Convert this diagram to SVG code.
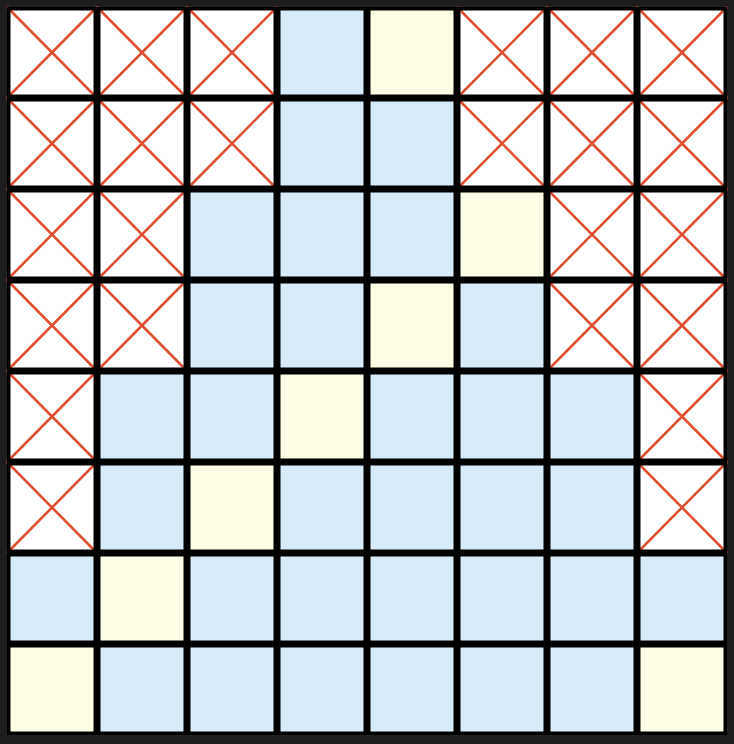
<svg xmlns="http://www.w3.org/2000/svg" width="734" height="744" viewBox="0 0 734 744">
<style>
.w{fill:#ffffff}
.b{fill:#d8ebf9}
.y{fill:#fefde6}
.x{stroke:#de4f2f;stroke-width:2.5;stroke-linecap:butt}
.g{stroke:#000000;stroke-width:7;fill:none}
</style>
<rect x="0" y="0" width="734" height="744" fill="#1e1e1e"/>
<g id="cells">
<g id="r0c0"><rect class="w" x="7" y="7" width="90" height="91"/><line class="x" x1="7" y1="7" x2="97" y2="98"/><line class="x" x1="97" y1="7" x2="7" y2="98"/></g>
<g id="r0c1"><rect class="w" x="97" y="7" width="90" height="91"/><line class="x" x1="97" y1="7" x2="187" y2="98"/><line class="x" x1="187" y1="7" x2="97" y2="98"/></g>
<g id="r0c2"><rect class="w" x="187" y="7" width="90" height="91"/><line class="x" x1="187" y1="7" x2="277" y2="98"/><line class="x" x1="277" y1="7" x2="187" y2="98"/></g>
<g id="r0c3"><rect class="b" x="277" y="7" width="90" height="91"/></g>
<g id="r0c4"><rect class="y" x="367" y="7" width="90" height="91"/></g>
<g id="r0c5"><rect class="w" x="457" y="7" width="90" height="91"/><line class="x" x1="457" y1="7" x2="547" y2="98"/><line class="x" x1="547" y1="7" x2="457" y2="98"/></g>
<g id="r0c6"><rect class="w" x="547" y="7" width="90" height="91"/><line class="x" x1="547" y1="7" x2="637" y2="98"/><line class="x" x1="637" y1="7" x2="547" y2="98"/></g>
<g id="r0c7"><rect class="w" x="637" y="7" width="90" height="91"/><line class="x" x1="637" y1="7" x2="727" y2="98"/><line class="x" x1="727" y1="7" x2="637" y2="98"/></g>

<g id="r1c0"><rect class="w" x="7" y="98" width="90" height="91"/><line class="x" x1="7" y1="98" x2="97" y2="189"/><line class="x" x1="97" y1="98" x2="7" y2="189"/></g>
<g id="r1c1"><rect class="w" x="97" y="98" width="90" height="91"/><line class="x" x1="97" y1="98" x2="187" y2="189"/><line class="x" x1="187" y1="98" x2="97" y2="189"/></g>
<g id="r1c2"><rect class="w" x="187" y="98" width="90" height="91"/><line class="x" x1="187" y1="98" x2="277" y2="189"/><line class="x" x1="277" y1="98" x2="187" y2="189"/></g>
<g id="r1c3"><rect class="b" x="277" y="98" width="90" height="91"/></g>
<g id="r1c4"><rect class="b" x="367" y="98" width="90" height="91"/></g>
<g id="r1c5"><rect class="w" x="457" y="98" width="90" height="91"/><line class="x" x1="457" y1="98" x2="547" y2="189"/><line class="x" x1="547" y1="98" x2="457" y2="189"/></g>
<g id="r1c6"><rect class="w" x="547" y="98" width="90" height="91"/><line class="x" x1="547" y1="98" x2="637" y2="189"/><line class="x" x1="637" y1="98" x2="547" y2="189"/></g>
<g id="r1c7"><rect class="w" x="637" y="98" width="90" height="91"/><line class="x" x1="637" y1="98" x2="727" y2="189"/><line class="x" x1="727" y1="98" x2="637" y2="189"/></g>

<g id="r2c0"><rect class="w" x="7" y="189" width="90" height="91"/><line class="x" x1="7" y1="189" x2="97" y2="280"/><line class="x" x1="97" y1="189" x2="7" y2="280"/></g>
<g id="r2c1"><rect class="w" x="97" y="189" width="90" height="91"/><line class="x" x1="97" y1="189" x2="187" y2="280"/><line class="x" x1="187" y1="189" x2="97" y2="280"/></g>
<g id="r2c2"><rect class="b" x="187" y="189" width="90" height="91"/></g>
<g id="r2c3"><rect class="b" x="277" y="189" width="90" height="91"/></g>
<g id="r2c4"><rect class="b" x="367" y="189" width="90" height="91"/></g>
<g id="r2c5"><rect class="y" x="457" y="189" width="90" height="91"/></g>
<g id="r2c6"><rect class="w" x="547" y="189" width="90" height="91"/><line class="x" x1="547" y1="189" x2="637" y2="280"/><line class="x" x1="637" y1="189" x2="547" y2="280"/></g>
<g id="r2c7"><rect class="w" x="637" y="189" width="90" height="91"/><line class="x" x1="637" y1="189" x2="727" y2="280"/><line class="x" x1="727" y1="189" x2="637" y2="280"/></g>

<g id="r3c0"><rect class="w" x="7" y="280" width="90" height="91"/><line class="x" x1="7" y1="280" x2="97" y2="371"/><line class="x" x1="97" y1="280" x2="7" y2="371"/></g>
<g id="r3c1"><rect class="w" x="97" y="280" width="90" height="91"/><line class="x" x1="97" y1="280" x2="187" y2="371"/><line class="x" x1="187" y1="280" x2="97" y2="371"/></g>
<g id="r3c2"><rect class="b" x="187" y="280" width="90" height="91"/></g>
<g id="r3c3"><rect class="b" x="277" y="280" width="90" height="91"/></g>
<g id="r3c4"><rect class="y" x="367" y="280" width="90" height="91"/></g>
<g id="r3c5"><rect class="b" x="457" y="280" width="90" height="91"/></g>
<g id="r3c6"><rect class="w" x="547" y="280" width="90" height="91"/><line class="x" x1="547" y1="280" x2="637" y2="371"/><line class="x" x1="637" y1="280" x2="547" y2="371"/></g>
<g id="r3c7"><rect class="w" x="637" y="280" width="90" height="91"/><line class="x" x1="637" y1="280" x2="727" y2="371"/><line class="x" x1="727" y1="280" x2="637" y2="371"/></g>

<g id="r4c0"><rect class="w" x="7" y="371" width="90" height="91"/><line class="x" x1="7" y1="371" x2="97" y2="462"/><line class="x" x1="97" y1="371" x2="7" y2="462"/></g>
<g id="r4c1"><rect class="b" x="97" y="371" width="90" height="91"/></g>
<g id="r4c2"><rect class="b" x="187" y="371" width="90" height="91"/></g>
<g id="r4c3"><rect class="y" x="277" y="371" width="90" height="91"/></g>
<g id="r4c4"><rect class="b" x="367" y="371" width="90" height="91"/></g>
<g id="r4c5"><rect class="b" x="457" y="371" width="90" height="91"/></g>
<g id="r4c6"><rect class="b" x="547" y="371" width="90" height="91"/></g>
<g id="r4c7"><rect class="w" x="637" y="371" width="90" height="91"/><line class="x" x1="637" y1="371" x2="727" y2="462"/><line class="x" x1="727" y1="371" x2="637" y2="462"/></g>

<g id="r5c0"><rect class="w" x="7" y="462" width="90" height="91"/><line class="x" x1="7" y1="462" x2="97" y2="553"/><line class="x" x1="97" y1="462" x2="7" y2="553"/></g>
<g id="r5c1"><rect class="b" x="97" y="462" width="90" height="91"/></g>
<g id="r5c2"><rect class="y" x="187" y="462" width="90" height="91"/></g>
<g id="r5c3"><rect class="b" x="277" y="462" width="90" height="91"/></g>
<g id="r5c4"><rect class="b" x="367" y="462" width="90" height="91"/></g>
<g id="r5c5"><rect class="b" x="457" y="462" width="90" height="91"/></g>
<g id="r5c6"><rect class="b" x="547" y="462" width="90" height="91"/></g>
<g id="r5c7"><rect class="w" x="637" y="462" width="90" height="91"/><line class="x" x1="637" y1="462" x2="727" y2="553"/><line class="x" x1="727" y1="462" x2="637" y2="553"/></g>

<g id="r6c0"><rect class="b" x="7" y="553" width="90" height="91"/></g>
<g id="r6c1"><rect class="y" x="97" y="553" width="90" height="91"/></g>
<g id="r6c2"><rect class="b" x="187" y="553" width="90" height="91"/></g>
<g id="r6c3"><rect class="b" x="277" y="553" width="90" height="91"/></g>
<g id="r6c4"><rect class="b" x="367" y="553" width="90" height="91"/></g>
<g id="r6c5"><rect class="b" x="457" y="553" width="90" height="91"/></g>
<g id="r6c6"><rect class="b" x="547" y="553" width="90" height="91"/></g>
<g id="r6c7"><rect class="b" x="637" y="553" width="90" height="91"/></g>

<g id="r7c0"><rect class="y" x="7" y="644" width="90" height="91"/></g>
<g id="r7c1"><rect class="b" x="97" y="644" width="90" height="91"/></g>
<g id="r7c2"><rect class="b" x="187" y="644" width="90" height="91"/></g>
<g id="r7c3"><rect class="b" x="277" y="644" width="90" height="91"/></g>
<g id="r7c4"><rect class="b" x="367" y="644" width="90" height="91"/></g>
<g id="r7c5"><rect class="b" x="457" y="644" width="90" height="91"/></g>
<g id="r7c6"><rect class="b" x="547" y="644" width="90" height="91"/></g>
<g id="r7c7"><rect class="y" x="637" y="644" width="90" height="91"/></g>
</g>
<g id="grid-lines">
<path class="g" d="M97 7V735M187 7V735M277 7V735M367 7V735M457 7V735M547 7V735M637 7V735M7 98H727M7 189H727M7 280H727M7 371H727M7 462H727M7 553H727M7 644H727"/>
<rect x="8.75" y="8.75" width="716.5" height="724.5" fill="none" stroke="#000000" stroke-width="3.5"/>
</g>
</svg>
